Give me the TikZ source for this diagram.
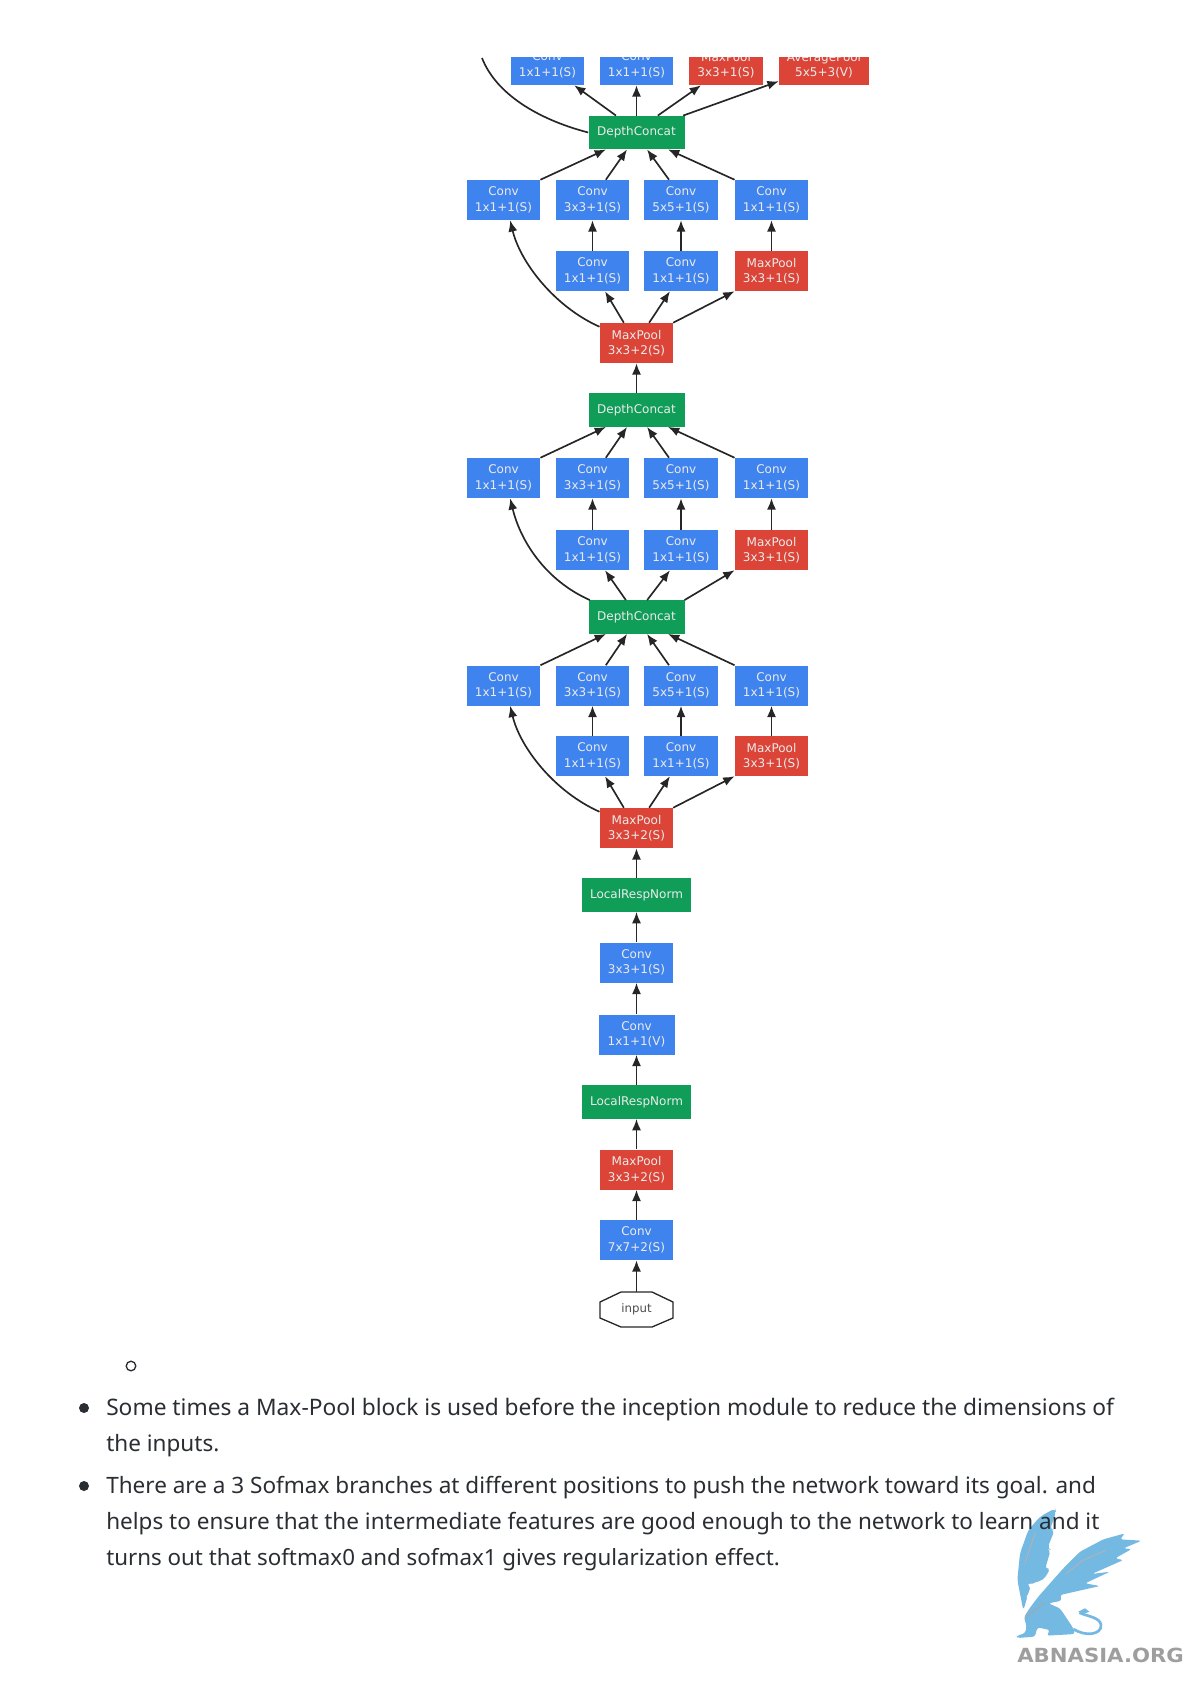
\documentclass[tikz,border=0pt]{standalone}
\usepackage{fontspec}
\setmainfont{Noto Sans}
\newfontfamily\dvfont{DejaVu Sans}
\newfontfamily\logofont[FakeStretch=1.09]{DejaVu Sans}
\usetikzlibrary{arrows.meta,calc}
\definecolor{gblue}{HTML}{3F83EE}
\definecolor{gred}{HTML}{DB4437}
\definecolor{ggreen}{HTML}{0F9D58}
\definecolor{logoblue}{HTML}{74B9E2}
\definecolor{bodyink}{HTML}{2A2E33}
\tikzset{
  boxbase/.style={inner sep=0pt,align=center,font=\dvfont\fontsize{9}{11.6}\selectfont,text=white!92!black,minimum height=30pt},
  convb/.style={boxbase,fill=gblue,minimum width=55pt},
  poolb/.style={boxbase,fill=gred,minimum width=55pt},
  concatb/.style={boxbase,fill=ggreen,minimum width=72pt,minimum height=25pt},
  normb/.style={boxbase,fill=ggreen,minimum width=82pt,minimum height=25pt},
  edge/.style={draw=black!85,line width=1.25pt,-{Latex[length=8.5pt,width=6.8pt]}},
  bodyline/.style={anchor=base west,inner sep=0pt,text=bodyink,font=\fontsize{16.9}{20}\selectfont}
}
% #1 prefix, #2 row 1 y, #3 row 2 y, #4 top node, #5 bottom node,
% #6 curve xshift, #7 inner xshift, #8 right xshift, #9 curve yshift
\newcommand{\inceptionblock}[9]{%
  \node[convb] (#1c1) at (503.5,#2) {Conv\\1x1+1(S)};
  \node[convb] (#1c2) at (592.5,#2) {Conv\\3x3+1(S)};
  \node[convb] (#1c3) at (681,#2) {Conv\\5x5+1(S)};
  \node[convb] (#1c4) at (771.5,#2) {Conv\\1x1+1(S)};
  \node[convb] (#1r1) at (592.5,#3) {Conv\\1x1+1(S)};
  \node[convb] (#1r2) at (681,#3) {Conv\\1x1+1(S)};
  \node[poolb] (#1r3) at (771.5,#3) {MaxPool\\3x3+1(S)};
  \draw[edge] (#1c1.north east) -- ([xshift=-22.9pt]#4.south);
  \draw[edge] ([xshift=10pt]#1c2.north) -- ([xshift=-7.1pt]#4.south);
  \draw[edge] ([xshift=-9pt]#1c3.north) -- ([xshift=7.9pt]#4.south);
  \draw[edge] (#1c4.north west) -- ([xshift=23.6pt]#4.south);
  \draw[edge] (#1r1) -- (#1c2);
  \draw[edge] (#1r2) -- (#1c3);
  \draw[edge] (#1r3) -- (#1c4);
  \draw[edge] ([xshift=#6pt,yshift=#9pt]#5.north) .. controls +(-45,-20) and +(10,42) .. ([xshift=5pt]#1c1.south);
  \draw[edge] ([xshift=#7pt]#5.north) -- ([xshift=9.4pt]#1r1.south);
  \draw[edge] ([xshift=-#7pt]#5.north) -- ([xshift=-8.3pt]#1r2.south);
  \draw[edge] ([xshift=#8pt]#5.north) -- (#1r3.south west);
}
\begin{document}
\begin{tikzpicture}[x=0.75pt,y=-0.75pt]
\useasboundingbox (0,0) rectangle (1190,1684);
% logo (drawn under the text)
\begin{scope}[shift={(960,1480)},xscale=1/3,yscale=1/3]
  \fill[logoblue,rounded corners=3pt] (285,85) -- (240,110) -- (205,150) -- (180,220) -- (172,300) -- (190,392) -- (205,340) -- (215,310) -- (250,300) -- (272,265) -- (255,268) -- (272,210) -- (262,205) -- (284,150) -- (270,150) -- (288,95) -- cycle;
  \fill[logoblue,rounded corners=2pt] (495,160) -- (430,178) -- (360,215) -- (310,265) -- (270,310) -- (235,350) -- (205,390) -- (192,412) -- (200,440) -- (195,460) -- (170,467) -- (172,474) -- (225,470) -- (232,442) -- (270,450) -- (260,467) -- (345,462) -- (340,445) -- (300,385) -- (265,370) -- (305,362) -- (300,345) -- (420,318) -- (375,310) -- (450,275) -- (395,282) -- (490,240) -- (465,235) -- (515,207) -- (490,205) -- (545,182) -- (480,178) -- cycle;
  \draw[logoblue,line width=2pt] (340,447) .. controls (375,470) and (425,465) .. (423,435) .. controls (420,412) and (385,410) .. (358,398);
  \fill[logoblue] (355,395) -- (375,385) -- (388,395) -- (370,402) -- cycle;
  \fill[white] (205,312) -- (225,310) -- (252,320) -- (235,330) -- (222,355) -- (205,388) -- (200,350) -- (212,330) -- cycle;
  \draw[gray!70,line width=.7pt] (195,412) -- (255,368);
  \draw[gray!60,line width=.7pt] (320,280) -- (370,240) -- (440,210);
  \draw[gray!60,line width=.7pt] (225,160) -- (195,250);
\end{scope}
\node[inner sep=0pt,anchor=base west,text=black!38,font=\logofont\bfseries\fontsize{14.6}{16}\selectfont] (logotext) at (1017,1662) {ABNASIA.ORG};
% body text
\draw[bodyink,line width=1pt] (131,1366) circle (4.8);
\fill[bodyink] (84,1408) circle (5);
\fill[bodyink] (84,1486) circle (5);
\node[bodyline,font=\fontsize{17.05}{20}\selectfont] (t1) at (106,1415) {Some times a Max-Pool block is used before the inception module to reduce the dimensions of};
\node[bodyline] (t2) at (106,1451) {the inputs.};
\node[bodyline] (t3) at (106,1493) {There are a 3 Sofmax branches at different positions to push the network toward its goal. and};
\node[bodyline] (t4) at (106,1529) {helps to ensure that the intermediate features are good enough to the network to learn and it};
\node[bodyline,font=\fontsize{16.75}{20}\selectfont] (t5) at (106,1565) {turns out that softmax0 and sofmax1 gives regularization effect.};
% diagram
\begin{scope}
\clip (0,58) rectangle (1190,1684);
\node[convb] (top1) at (547.5,65) {Conv\\1x1+1(S)};
\node[convb] (top2) at (636.5,65) {Conv\\1x1+1(S)};
\node[poolb] (top3) at (726,65) {MaxPool\\3x3+1(S)};
\node[poolb,minimum width=67.5pt] (top4) at (824,65) {AveragePool\\5x5+3(V)};
\coordinate (offtop) at (482,58);
\node[concatb] (dc1) at (636.5,132.5) {DepthConcat};
\node[poolb] (mp1) at (636.5,343) {MaxPool\\3x3+2(S)};
\node[concatb] (dc2) at (636.5,410) {DepthConcat};
\node[concatb] (dc3) at (636.5,617) {DepthConcat};
\node[poolb] (mp2) at (636.5,828) {MaxPool\\3x3+2(S)};
\node[normb] (lrn1) at (636.5,895) {LocalRespNorm};
\node[convb] (s1) at (636.5,962.5) {Conv\\3x3+1(S)};
\node[convb,minimum width=57pt] (s2) at (636.5,1034.5) {Conv\\1x1+1(V)};
\node[normb] (lrn2) at (636.5,1102) {LocalRespNorm};
\node[poolb] (mp3) at (636.5,1169.5) {MaxPool\\3x3+2(S)};
\node[convb] (s3) at (636.5,1240) {Conv\\7x7+2(S)};
\node[inner sep=0pt,minimum width=55pt,minimum height=26pt,font=\dvfont\fontsize{8.8}{11}\selectfont,text=black!70] (inp) at (636.5,1309.5) {input};
\draw[black!85,line width=1pt] (600,1302) -- (621,1292) -- (652,1292) -- (673,1302) -- (673,1318) -- (652,1327) -- (621,1327) -- (600,1318) -- cycle;
\inceptionblock{pa}{200}{271}{dc1}{mp1}{-27.75}{-9.5}{27.5}{-3}
\inceptionblock{pb}{478}{550}{dc2}{dc3}{-35}{-8}{36}{0}
\inceptionblock{pk}{685.5}{756}{dc3}{mp2}{-27.75}{-9.5}{27.5}{-3}
\draw[edge] ([xshift=-15.4pt]dc1.north) -- ([xshift=20pt]top1.south);
\draw[edge] (dc1) -- (top2);
\draw[edge] ([xshift=16pt]dc1.north) -- ([xshift=-18.75pt]top3.south);
\draw[edge] ([xshift=35pt]dc1.north) -- ([yshift=3pt]top4.south west);
\draw[black!85,line width=1.25pt] (dc1.west) .. controls +(-50,-13) and +(14,36) .. (offtop);
\draw[edge] (dc2) -- (mp1);
\draw[edge] (lrn1) -- (mp2);
\draw[edge] (s1) -- (lrn1);
\draw[edge] (s2) -- (s1);
\draw[edge] (lrn2) -- (s2);
\draw[edge] (mp3) -- (lrn2);
\draw[edge] (s3) -- (mp3);
\draw[edge] (inp.north) -- (s3);
\end{scope}
\end{tikzpicture}
\end{document}
